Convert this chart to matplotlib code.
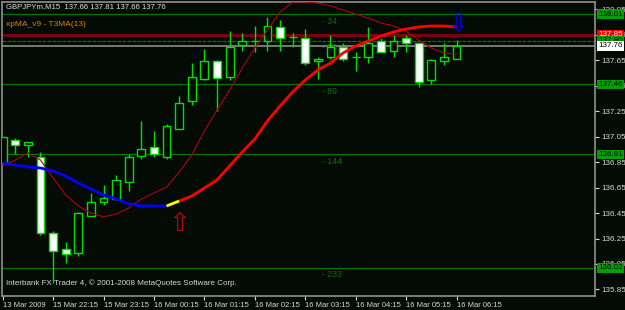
import matplotlib
matplotlib.use('Agg')
import matplotlib.pyplot as plt
from matplotlib import transforms
import numpy as np

# GBPJPYm M15 candles (bar index 0..36)
opens = [136.84, 137.02, 136.98, 136.89, 136.29, 136.17, 136.14, 136.43, 136.54, 136.56,
         136.69, 136.90, 136.97, 136.89, 137.11, 137.33, 137.50, 137.64, 137.52, 137.77,
         137.80, 137.80, 137.91, 137.83, 137.82, 137.64, 137.67, 137.75, 137.67, 137.67,
         137.80, 137.72, 137.82, 137.78, 137.49, 137.64, 137.66]
highs = [137.05, 137.04, 137.01, 136.93, 136.31, 136.22, 136.46, 136.61, 136.67, 136.75,
         136.91, 137.17, 137.09, 137.15, 137.37, 137.63, 137.74, 137.65, 137.88, 137.86,
         137.92, 137.99, 137.96, 137.86, 137.89, 137.67, 137.85, 137.78, 137.71, 137.91,
         137.82, 137.85, 137.85, 137.78, 137.66, 137.78, 137.81]
lows = [136.84, 136.91, 136.89, 136.28, 135.90, 136.06, 136.11, 136.43, 136.51, 136.55,
        136.62, 136.87, 136.89, 136.87, 137.11, 137.30, 137.49, 137.25, 137.49, 137.72,
        137.71, 137.72, 137.72, 137.75, 137.61, 137.50, 137.66, 137.64, 137.56, 137.63,
        137.71, 137.67, 137.71, 137.44, 137.46, 137.61, 137.66]
closes = [137.05, 136.98, 137.01, 136.29, 136.15, 136.13, 136.45, 136.54, 136.57, 136.71,
          136.89, 136.95, 136.91, 137.13, 137.31, 137.52, 137.64, 137.51, 137.75, 137.80,
          137.80, 137.92, 137.82, 137.83, 137.63, 137.66, 137.75, 137.66, 137.67, 137.78,
          137.71, 137.80, 137.78, 137.48, 137.65, 137.67, 137.76]

# xpMA_v9 T3MA(13) (thick, blue -> yellow -> red)
t3ma = [136.842, 136.826, 136.811, 136.803, 136.779, 136.740, 136.685, 136.638, 136.591, 136.560,
        136.521, 136.505, 136.505, 136.505, 136.544, 136.583, 136.646, 136.709, 136.819, 136.928,
        137.030, 137.172, 137.289, 137.399, 137.493, 137.572, 137.626, 137.705, 137.760, 137.799,
        137.838, 137.870, 137.893, 137.909, 137.917, 137.917, 137.909]
# thin dark red average
thin_ma = [136.819, 136.866, 136.921, 136.866, 136.725, 136.591, 136.505, 136.450, 136.419, 136.442,
           136.489, 136.560, 136.607, 136.654, 136.772, 136.905, 137.093, 137.258, 137.415, 137.587,
           137.744, 137.885, 138.026, 138.105, 138.105, 138.097, 138.074, 138.042, 138.011, 137.979,
           137.940, 137.917, 137.877, 137.807, 137.744, 137.705, 137.697]

fib_levels = [138.01, 137.80, 137.46, 136.91, 136.02]
fib_names = ['34', '55', '89', '144', '233']
alert_price = 137.85
bid_price = 137.76

x_ticks = [0, 4, 8, 12, 16, 20, 24, 28, 32, 36]
x_labels = ['13 Mar 2009', '15 Mar 22:15', '15 Mar 23:15', '16 Mar 00:15', '16 Mar 01:15',
            '16 Mar 02:15', '16 Mar 03:15', '16 Mar 04:15', '16 Mar 05:15', '16 Mar 06:15']
y_ticks = [135.85, 136.05, 136.25, 136.45, 136.65, 136.85, 137.05, 137.25, 137.45, 137.65,
           137.85, 138.05]

BG = '#040b04'
plt.rcParams['font.family'] = ['Liberation Sans', 'DejaVu Sans']

fig = plt.figure(figsize=(6.25, 3.1), dpi=100, facecolor=BG)
ax = fig.add_axes([2/625, 14/310, 593/625, 294/310])
ax.set_facecolor(BG)

x = np.arange(len(opens))
o = np.array(opens); c = np.array(closes)

# wicks then bodies
ax.vlines(x, lows, highs, color='#00e000', lw=1.0, zorder=3)
bull = c >= o
body_bot = np.minimum(o, c)
body_h = np.maximum(np.abs(c - o), 0.001)
ax.bar(x, body_h, bottom=body_bot, width=0.62,
       color=np.where(bull, BG, 'white'), edgecolor='#00e000', lw=1.0, zorder=4)

# horizontal levels
for lv in fib_levels:
    ls = (0, (3, 1)) if lv == 137.80 else '-'
    ax.axhline(lv, color='#007800', lw=0.9, ls=ls, zorder=1)
ax.axhline(alert_price, color='#7a0010', lw=2.2, zorder=1)
ax.axhline(bid_price, color='#8c8c8c', lw=1.2, zorder=1)

for lv, nm in zip(fib_levels, fib_names):
    ax.text(25.3, lv - 0.02, '- ' + nm, color='#007000', fontsize=6.3, va='top', ha='left', zorder=2)

# moving averages
ax.plot(x, thin_ma, color='#b00010', lw=0.8, zorder=5)
tm = np.array(t3ma)
ax.plot(x[:14], tm[:14], color='#0000ff', lw=2.0, zorder=6, solid_capstyle='butt')
ax.plot(x[13:15], tm[13:15], color='#ffff00', lw=2.0, zorder=6, solid_capstyle='butt')
ax.plot(x[14:], tm[14:], color='#ff0000', lw=2.0, zorder=6, solid_capstyle='butt')

# signal arrows
ax.text(14, 136.36, '\u21e7', color='#c00000', fontsize=19, ha='center', va='center',
        family='DejaVu Sans', zorder=7)
ax.text(36.1, 137.93, '\u21e9', color='#0000ff', fontsize=18, ha='center', va='center',
        family='DejaVu Sans', zorder=7)

ax.set_xlim(-0.05, 46.98)
ax.set_ylim(135.799, 138.105)

for sp in ax.spines.values():
    sp.set_color('#909090')
    sp.set_linewidth(1.2)

ax.yaxis.tick_right()
ax.set_yticks(y_ticks)
ax.set_yticklabels(['%.2f' % v for v in y_ticks])
ax.set_xticks(x_ticks)
ax.set_xticklabels(x_labels, ha='left')
ax.tick_params(axis='both', colors='#d8d8d8', length=3, width=0.8, direction='out')
ax.tick_params(axis='y', pad=1.5, labelsize=5.8)
ax.tick_params(axis='x', pad=1, labelsize=5.5)

# price boxes on the right scale
tr = transforms.blended_transform_factory(ax.transAxes, ax.transData)
boxes = [(138.01, '#00a000', 'black'), (137.85, '#ff0000', 'white'), (137.80, '#00a000', 'black'),
         (137.76, 'white', 'black'), (137.46, '#00a000', 'black'), (136.91, '#00a000', 'black'),
         (136.02, '#00a000', 'black')]
for pv, bg, fg in boxes:
    ax.text(1.005, pv, '%.2f' % pv, transform=tr, color=fg, fontsize=5.8, va='center', ha='left',
            bbox=dict(boxstyle='square,pad=0.15', fc=bg, ec='none'), zorder=10, clip_on=False)

# header and footer texts
ax.text(0.006, 0.997, 'GBPJPYm,M15  137.66 137.81 137.66 137.76', transform=ax.transAxes,
        color='#e0e0e0', fontsize=5.6, va='top', ha='left')
ax.text(0.006, 0.935, 'xpMA_v9 - T3MA(13)', transform=ax.transAxes,
        color='#e08000', fontsize=6, va='top', ha='left')
ax.text(0.006, 0.03, 'Interbank FX Trader 4, \u00a9 2001-2008 MetaQuotes Software Corp.',
        transform=ax.transAxes, color='#d8d8d8', fontsize=5.8, va='bottom', ha='left')

fig.savefig('out.png', dpi=100, facecolor=BG)
